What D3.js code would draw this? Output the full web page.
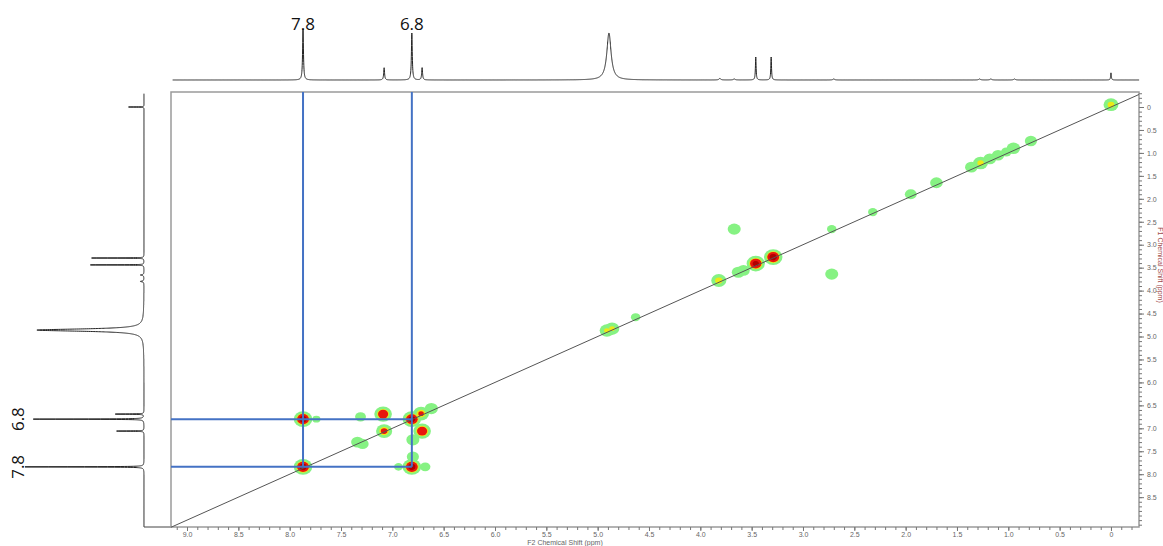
<!DOCTYPE html>
<html>
<head>
<meta charset="utf-8">
<script src="https://cdn.jsdelivr.net/npm/d3@7"></script>
<style>
  body { margin: 0; background: #fff; }
  svg { display: block; }
</style>
</head>
<body>
<div id="chart"></div>
<script>
// F2 (top) 1D projection: peak positions (ppm), relative heights, half widths (ppm)
const topPpm    = [7.87, 7.08, 6.81, 6.71, 4.89, 3.81, 3.67, 3.46, 3.31, 2.70, 1.28, 1.17, 0.94, 0.00];
const topHeight = [1.00, 0.24, 0.92, 0.24, 0.92, 0.03, 0.02, 0.45, 0.45, 0.02, 0.02, 0.02, 0.02, 0.14];
const topWidth  = [0.005, 0.005, 0.005, 0.005, 0.025, 0.01, 0.01, 0.004, 0.004, 0.01, 0.01, 0.01, 0.01, 0.004];

// F1 (left) 1D projection
const leftPpm    = [7.84, 7.06, 6.80, 6.69, 4.86, 3.80, 3.66, 3.44, 3.29, 0.00];
const leftHeight = [1.00, 0.23, 0.93, 0.24, 0.90, 0.03, 0.03, 0.45, 0.44, 0.13];
const leftWidth  = [0.004, 0.004, 0.004, 0.004, 0.03, 0.01, 0.01, 0.003, 0.003, 0.003];

// 2D COSY contour peaks: F2 ppm, F1 ppm, intensity
const peakF2  = [7.87, 7.87, 6.81, 6.81, 3.29, 3.46, 7.09, 6.71, 7.08, 6.72, 3.82, 0.00, 4.91, 4.86, 1.27,
                 7.31, 7.34, 7.29, 6.62, 6.80, 6.80, 6.68, 6.94, 3.67, 2.72, 3.63, 3.58, 2.72, 2.32, 4.63,
                 0.78, 0.95, 1.02, 1.10, 1.18, 1.36, 1.70, 1.95, 7.74];
const peakF1  = [7.84, 6.80, 7.84, 6.80, 3.27, 3.41, 6.69, 7.06, 7.06, 6.68, 3.78, -0.05, 4.87, 4.83, 1.22,
                 6.75, 7.30, 7.34, 6.57, 7.25, 7.62, 7.84, 7.84, 2.66, 3.64, 3.60, 3.56, 2.66, 2.29, 4.58,
                 0.74, 0.90, 0.98, 1.05, 1.13, 1.31, 1.65, 1.90, 6.80];
const peakInt = [1.00, 1.00, 1.00, 0.95, 1.00, 0.92, 0.75, 0.75, 0.50, 0.46, 0.38, 0.36, 0.33, 0.33, 0.35,
                 0.16, 0.22, 0.20, 0.24, 0.24, 0.20, 0.15, 0.12, 0.24, 0.24, 0.24, 0.22, 0.13, 0.13, 0.13,
                 0.20, 0.26, 0.15, 0.21, 0.22, 0.22, 0.22, 0.19, 0.11];

// marked cross peaks
const markF2 = [7.87, 6.81];
const markF1 = [6.80, 7.84];
const topLabels  = ["7.8", "6.8"];
const leftLabels = ["6.8", "7.8"];

// axes
const xMajor = d3.range(0, 9.01, 0.5);
const xMinor = d3.range(-0.2, 9.15, 0.1);
const yMajor = d3.range(0, 8.51, 0.5);
const yMinor = d3.range(-0.3, 9.15, 0.1);

// contour levels
const levels = [0.08, 0.3, 0.42, 0.8];
const levelColors = ["#86f283", "#ecea16", "#e8150f", "#b00000"];

const W = 1163, H = 546;
const svg = d3.select("#chart").append("svg")
    .attr("width", W)
    .attr("height", H);

const x = d3.scaleLinear().domain([9.156, -0.273]).range([171, 1139]);
const y = d3.scaleLinear().domain([-0.327, 9.15]).range([92, 527]);

const topY = d3.scaleLinear().domain([0, 1]).range([80, 29]);
const leftX = d3.scaleLinear().domain([0, 1]).range([144, 25]);

function spectrum(ppm, pos, h, w) {
  let s = 0;
  for (let i = 0; i < pos.length; i++) {
    const u = (ppm - pos[i]) / w[i];
    s += h[i] / (1 + u * u);
  }
  return s;
}

// top 1D trace
const topGrid = d3.range(9.14, -0.274, -0.001);
svg.append("path")
    .datum(topGrid)
    .attr("fill", "none")
    .attr("stroke", "#222")
    .attr("stroke-width", 1)
    .attr("d", d3.line()
        .x(d => x(d))
        .y(d => topY(spectrum(d, topPpm, topHeight, topWidth))));

// left 1D trace
const leftGrid = d3.range(-0.29, 9.15, 0.001);
svg.append("path")
    .datum(leftGrid)
    .attr("fill", "none")
    .attr("stroke", "#222")
    .attr("stroke-width", 1)
    .attr("d", d3.line()
        .x(d => leftX(spectrum(d, leftPpm, leftHeight, leftWidth)))
        .y(d => y(d)));
svg.append("line")
    .attr("x1", leftX(0)).attr("x2", x(9.156))
    .attr("y1", y(9.15)).attr("y2", y(9.15))
    .attr("stroke", "#444").attr("stroke-width", 1);

// plot frame
svg.append("rect")
    .attr("x", x(9.156)).attr("y", y(-0.327))
    .attr("width", x(-0.273) - x(9.156))
    .attr("height", y(9.15) - y(-0.327))
    .attr("fill", "none")
    .attr("stroke", "#9a9a9a")
    .attr("stroke-width", 1.5);

// contours
const defs = svg.append("defs");
defs.append("filter").attr("id", "soft")
  .append("feGaussianBlur").attr("stdDeviation", 0.7);

const peaks = peakF2.map((d, i) => ({ f2: d, f1: peakF1[i], a: peakInt[i] }));
const sx = 3.6, sy = 3.1;
const gPeaks = svg.append("g").attr("filter", "url(#soft)");
levels.forEach((t, li) => {
  gPeaks.append("g")
    .selectAll("ellipse")
    .data(peaks.filter(p => p.a > t))
    .join("ellipse")
      .attr("cx", p => x(p.f2))
      .attr("cy", p => y(p.f1))
      .attr("rx", p => sx * Math.sqrt(2 * Math.log(p.a / t)) + 1.2)
      .attr("ry", p => sy * Math.sqrt(2 * Math.log(p.a / t)) + 1.0)
      .attr("fill", levelColors[li]);
});

// diagonal
svg.append("line")
    .attr("x1", x(9.156)).attr("y1", y(9.156))
    .attr("x2", x(-0.273)).attr("y2", y(-0.273))
    .attr("stroke", "#555")
    .attr("stroke-width", 1);

// blue guide lines
const blue = "#4472c4";
markF2.forEach(p => {
  svg.append("line")
      .attr("x1", x(p)).attr("x2", x(p))
      .attr("y1", y(-0.327)).attr("y2", y(d3.max(markF1)))
      .attr("stroke", blue).attr("stroke-width", 2);
});
markF1.forEach(p => {
  svg.append("line")
      .attr("x1", x(9.156)).attr("x2", x(d3.min(markF2)))
      .attr("y1", y(p)).attr("y2", y(p))
      .attr("stroke", blue).attr("stroke-width", 2);
});

// labels on projections
svg.selectAll(".toplab")
  .data(markF2)
  .join("text")
    .attr("x", d => x(d))
    .attr("y", 30)
    .attr("text-anchor", "middle")
    .attr("font-family", "Open Sans, sans-serif")
    .attr("font-size", 17)
    .attr("fill", "#111")
    .text((d, i) => topLabels[i]);

svg.selectAll(".leftlab")
  .data(markF1)
  .join("text")
    .attr("transform", d => `translate(24, ${y(d)}) rotate(-90)`)
    .attr("text-anchor", "middle")
    .attr("font-family", "Open Sans, sans-serif")
    .attr("font-size", 17)
    .attr("fill", "#111")
    .text((d, i) => leftLabels[i]);

// x axis
const fmt = d => d === 0 ? "0" : d3.format(".1f")(d);
svg.append("g")
    .attr("transform", `translate(0, ${y(9.15)})`)
    .call(d3.axisBottom(x).tickValues(xMajor).tickFormat(fmt).tickSize(4).tickPadding(1));
svg.append("g")
    .attr("transform", `translate(0, ${y(9.15)})`)
    .call(d3.axisBottom(x).tickValues(xMinor).tickFormat("").tickSize(3));

// y axis (right)
svg.append("g")
    .attr("transform", `translate(${x(-0.273)}, 0)`)
    .call(d3.axisRight(y).tickValues(yMajor).tickFormat(fmt).tickSize(5).tickPadding(3));
svg.append("g")
    .attr("transform", `translate(${x(-0.273)}, 0)`)
    .call(d3.axisRight(y).tickValues(yMinor).tickFormat("").tickSize(3));

svg.selectAll(".domain").remove();
svg.selectAll(".tick line").attr("stroke", "#777");
svg.selectAll(".tick text")
    .attr("font-family", "Liberation Sans, Arial, sans-serif")
    .attr("font-size", 7)
    .attr("fill", "#666");

svg.append("text")
    .attr("x", 565).attr("y", 545)
    .attr("text-anchor", "middle")
    .attr("font-family", "Liberation Sans, Arial, sans-serif")
    .attr("font-size", 7)
    .attr("fill", "#666")
    .text("F2 Chemical Shift (ppm)");

svg.append("text")
    .attr("transform", "translate(1157.5, 265) rotate(90)")
    .attr("text-anchor", "middle")
    .attr("font-family", "Liberation Sans, Arial, sans-serif")
    .attr("font-size", 7)
    .attr("fill", "#a04848")
    .text("F1 Chemical Shift (ppm)");
</script>
</body>
</html>
